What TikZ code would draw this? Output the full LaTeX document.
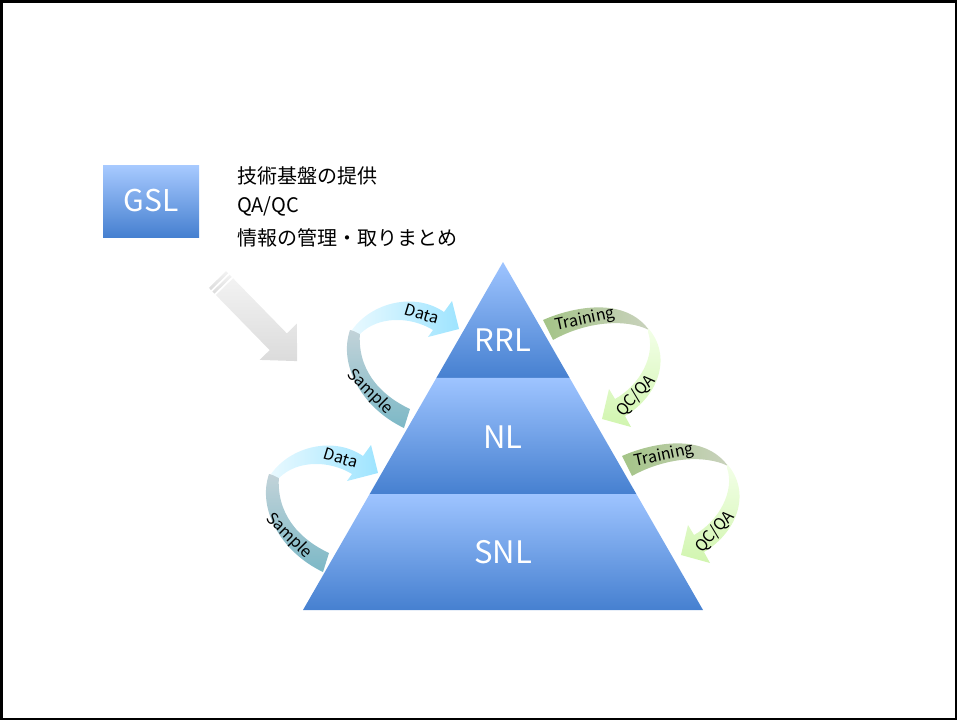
\documentclass[tikz,border=0pt]{standalone}
\usepackage{fontspec}
\usepackage{tikz}
\usetikzlibrary{calc}
\newfontfamily\jpfont{Noto Sans CJK JP}
\definecolor{bandtop}{HTML}{9EC4FF}
\definecolor{bandbot}{HTML}{4680D0}
\definecolor{smptop}{HTML}{C2D3D9}
\definecolor{smpbot}{HTML}{7CB8C6}
\definecolor{datl}{HTML}{E8F9FF}
\definecolor{datr}{HTML}{9EE4FF}
\definecolor{trnl}{HTML}{A4C487}
\definecolor{trnr}{HTML}{C9D2BD}
\definecolor{qcat}{HTML}{F3FFE8}
\definecolor{qcab}{HTML}{D1F5AF}

\begin{document}
\begin{tikzpicture}[x=1pt,y=-1pt,
  band/.style={top color=bandtop,bottom color=bandbot},
  lvl/.style={text=white,font={\jpfont\fontsize{31}{34}\selectfont}},
  gslbox/.style={top color=bandtop!90!white,bottom color=bandbot,minimum width=96pt,minimum height=72pt,
    text=white,font={\jpfont\fontsize{30}{34}\selectfont}},
  jp/.style={anchor=west,inner sep=0pt,font={\jpfont\fontsize{20}{24}\selectfont}},
  tag/.style={inner sep=0pt,font={\jpfont\fontsize{16}{18}\selectfont}},
  grayarr/.style={top color=gray!10,bottom color=gray!28}]
  \useasboundingbox (0,0) rectangle (957,720);
  \draw[line width=2.5pt] (1.25,1.25) rectangle (955.75,718.75);
  % pyramid
  \coordinate (apex) at (503,262);
  \coordinate (bl) at (303,610);
  \coordinate (br) at (703,610);
  \foreach \a/\b/\lab/\ly in {0/0.3333/RRL/340,0.3333/0.6667/NL/437,0.6667/1/SNL/552}
    {\shade[band] ($(apex)!\a!(bl)$) -- ($(apex)!\b!(bl)$) -- ($(apex)!\b!(br)$) -- ($(apex)!\a!(br)$) -- cycle;
     \node[lvl] (\lab) at (503,\ly) {\lab};}
  % GSL and its roles
  \node[gslbox] (gsl) at (151,201) {GSL};
  \node[jp] (role1) at (237,176) {技術基盤の提供};
  \node[jp] (role2) at (237,206) {QA/QC};
  \node[jp] (role3) at (237,238) {情報の管理・取りまとめ};
  % gray arrow
  \begin{scope}[shift={(217.5,279.5)},rotate=-45.7]
    \foreach \s in {0,5} \shade[grayarr] (\s,-12) rectangle (\s+3,12);
    \shade[grayarr] (10,-12) -- (87,-12) -- (87,-26) -- (114,0) -- (87,26) -- (87,12) -- (10,12) -- cycle;
  \end{scope}
  % left loops
  \foreach \dx/\dy/\i in {0/0/1,-81/144/2}{
    \begin{scope}[shift={(\dx,\dy)}]
      \shade[top color=smptop,bottom color=smpbot] (350,330) .. controls (338,365) and (362,408) .. (404,428)
        -- (410,409) .. controls (378,394) and (357,368) .. (360,332) -- cycle;
      \shade[left color=datl,right color=datr] (352,330) .. controls (372,302) and (415,292) .. (444,312)
        -- (452,301) -- (459,329) -- (428,337) -- (433,330) .. controls (410,316) and (378,316) .. (360,334) -- cycle;
      \node[tag,rotate=-45] (sample\i) at (370,392) {Sample};
      \node[tag,rotate=-17] (data\i) at (422,314) {Data};
    \end{scope}}
  % right loops
  \foreach \dx/\dy/\i in {0/0/1,79/136/2}{
    \begin{scope}[shift={(\dx,\dy)}]
      \shade[left color=trnl,right color=trnr] (543,320) .. controls (575,306) and (625,297) .. (649,330)
        .. controls (625,318) and (585,322) .. (553,340) -- cycle;
      \shade[top color=qcat,bottom color=qcab] (648,328) .. controls (672,355) and (660,395) .. (625,416)
        -- (631,427) -- (602,419) -- (609,389) -- (615,399) .. controls (640,385) and (656,355) .. (648,332) -- cycle;
      \node[tag,rotate=12] (train\i) at (585,320) {Training};
      \node[tag,rotate=48] (qcqa\i) at (636,396) {QC/QA};
    \end{scope}}
\end{tikzpicture}
\end{document}
